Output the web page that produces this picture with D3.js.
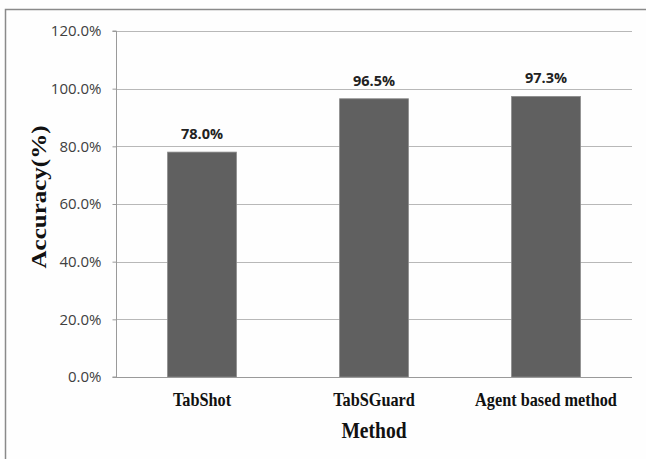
<!DOCTYPE html>
<html>
<head>
<meta charset="utf-8">
<script src="https://cdn.jsdelivr.net/npm/d3@7"></script>
<style>
  html, body { margin: 0; padding: 0; background: #fff; }
  svg { display: block; }
</style>
</head>
<body>
<svg id="chart" width="646" height="459"></svg>
<script>
// Accuracy of each detection method
const categories = ["TabShot", "TabSGuard", "Agent based method"];
const accuracy = [78.0, 96.5, 97.3];
const yTicks = [0, 20, 40, 60, 80, 100, 120];

const svg = d3.select("#chart");
const W = 646, H = 459;
const margin = { left: 116, right: 14, top: 31, bottom: 82 };

svg.append("rect").attr("width", W).attr("height", H).attr("fill", "#fefefe");

// outer frame (open to the bottom/right edge)
svg.append("rect")
  .attr("x", 5.5).attr("y", 9.5)
  .attr("width", W).attr("height", H)
  .attr("fill", "none").attr("stroke", "#8a8a8a").attr("stroke-width", 1.5);

const x = d3.scaleBand()
  .domain(categories)
  .range([margin.left, W - margin.right])
  .paddingInner(0.6)
  .paddingOuter(0.3);

const y = d3.scaleLinear()
  .domain([0, 120])
  .range([H - margin.bottom, margin.top]);

// gridlines
svg.append("g")
  .selectAll("line")
  .data(yTicks.filter(d => d > 0))
  .join("line")
  .attr("x1", margin.left).attr("x2", W - margin.right)
  .attr("y1", d => Math.round(y(d)) + 0.5).attr("y2", d => Math.round(y(d)) + 0.5)
  .attr("stroke", "#b8b8b8").attr("stroke-width", 1);

// y axis
const yAxis = svg.append("g")
  .attr("transform", `translate(${margin.left + 0.5},0)`)
  .call(d3.axisLeft(y).tickValues(yTicks).tickSize(4).tickPadding(11)
    .tickFormat(d => d.toFixed(1) + "%"));
yAxis.select(".domain").attr("stroke", "#9a9a9a").attr("d", `M-4,${y(0)}H0V${y(120)}H-4`);
yAxis.selectAll(".tick line").attr("stroke", "#9a9a9a");
yAxis.selectAll(".tick text")
  .attr("font-family", "'Open Sans', sans-serif")
  .attr("font-size", 15)
  .attr("fill", "#404040");

// bars
svg.append("g")
  .selectAll("rect")
  .data(accuracy)
  .join("rect")
  .attr("x", (d, i) => x(categories[i]))
  .attr("y", d => y(d))
  .attr("width", x.bandwidth())
  .attr("height", d => y(0) - y(d))
  .attr("fill", "#606060")
  .attr("stroke", "#8a8a8a")
  .attr("stroke-width", 0.8);

// x axis line
svg.append("line")
  .attr("x1", margin.left).attr("x2", W - margin.right)
  .attr("y1", Math.round(y(0)) + 0.5).attr("y2", Math.round(y(0)) + 0.5)
  .attr("stroke", "#9a9a9a");

// value labels
svg.append("g")
  .selectAll("text")
  .data(accuracy)
  .join("text")
  .attr("x", (d, i) => x(categories[i]) + x.bandwidth() / 2)
  .attr("y", d => y(d) - 13)
  .attr("text-anchor", "middle")
  .attr("font-family", "'Open Sans', sans-serif")
  .attr("font-weight", "bold")
  .attr("font-size", 14.5)
  .attr("fill", "#222")
  .text(d => d.toFixed(1) + "%");

// category labels (condensed serif)
svg.append("g")
  .selectAll("text")
  .data(categories)
  .join("text")
  .attr("transform", d => `translate(${x(d) + x.bandwidth() / 2},406) scale(0.88,1)`)
  .attr("text-anchor", "middle")
  .attr("font-family", "'Liberation Serif', 'Times New Roman', serif")
  .attr("font-weight", "bold")
  .attr("font-size", 18.5)
  .attr("fill", "#111")
  .text(d => d);

// axis titles
svg.append("text")
  .attr("transform", `translate(374,438) scale(0.87,1)`)
  .attr("text-anchor", "middle")
  .attr("font-family", "'Liberation Serif', 'Times New Roman', serif")
  .attr("font-weight", "bold")
  .attr("font-size", 22.5)
  .attr("fill", "#111")
  .text("Method");

svg.append("text")
  .attr("transform", `translate(46,197) scale(0.87,1) rotate(-90)`)
  .attr("text-anchor", "middle")
  .attr("font-family", "'Liberation Serif', 'Times New Roman', serif")
  .attr("font-weight", "bold")
  .attr("font-size", 25)
  .attr("fill", "#111")
  .text("Accuracy(%)");
</script>
</body>
</html>
